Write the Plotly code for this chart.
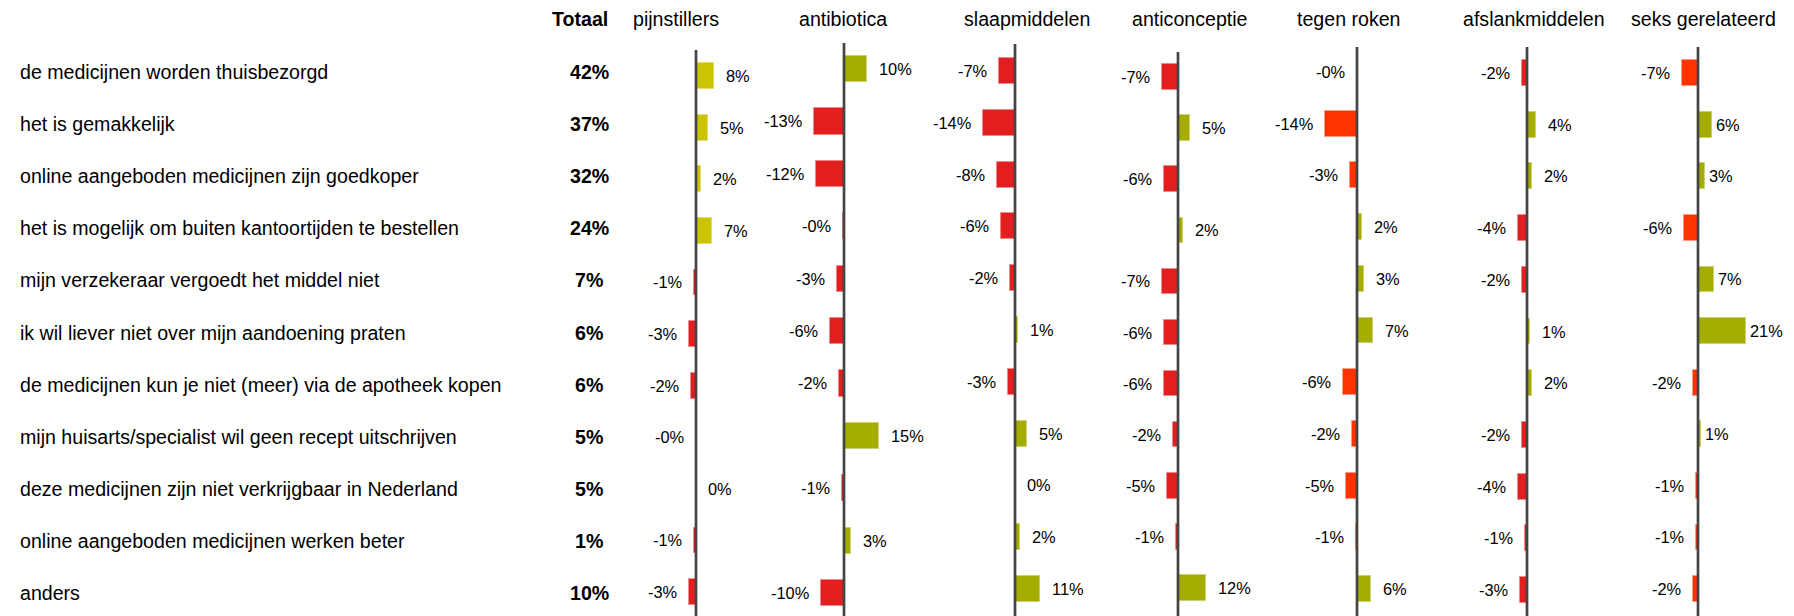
import plotly.graph_objects as go

# ---------------- data ----------------
reasons = [
    "de medicijnen worden thuisbezorgd",
    "het is gemakkelijk",
    "online aangeboden medicijnen zijn goedkoper",
    "het is mogelijk om buiten kantoortijden te bestellen",
    "mijn verzekeraar vergoedt het middel niet",
    "ik wil liever niet over mijn aandoening praten",
    "de medicijnen kun je niet (meer) via de apotheek kopen",
    "mijn huisarts/specialist wil geen recept uitschrijven",
    "deze medicijnen zijn niet verkrijgbaar in Nederland",
    "online aangeboden medicijnen werken beter",
    "anders",
]
totaal = [42, 37, 32, 24, 7, 6, 6, 5, 5, 1, 10]

panel_names = ["pijnstillers", "antibiotica", "slaapmiddelen", "anticonceptie",
               "tegen roken", "afslankmiddelen", "seks gerelateerd"]

pijnstillers = [8, 5, 2, 7, -1, -3, -2, -0.2, 0.1, -1, -3]
antibiotica = [10, -13, -12, -0.3, -3, -6, -2, 15, -1, 3, -10]
slaapmiddelen = [-7, -14, -8, -6, -2, 1.4, -3, 5, 0.1, 2, 11]
anticonceptie = [-7, 5, -6, 2, -7, -6, -6, -2, -5, -1, 12]
tegen_roken = [-0.2, -14, -3, 2, 3, 7, -6, -2, -5, -0.6, 6]
afslankmiddelen = [-2, 4, 2, -4, -2, 1.4, 2, -2, -4, -1, -3]
seks_gerelateerd = [-7, 6, 3, -6, 7, 21, -2, 1.2, -1, -1, -2]

series = [pijnstillers, antibiotica, slaapmiddelen, anticonceptie,
          tegen_roken, afslankmiddelen, seks_gerelateerd]

# ---------------- layout / style ----------------
W, H = 1794, 616
OFF = 8            # default body margin of the html page
PX_PER_PCT = 2.3
HALF = 90
axis_px = [696, 844, 1015, 1178, 1357, 1527, 1698]
axis_top_px = [50, 43, 44, 52, 47, 47, 47]
row_first_px = [76, 69, 71, 77, 72, 73, 73]
row_last_px = [592, 593, 589, 588, 589, 590, 589]
header_px = [676, 843, 1027, 1190, 1349, 1534, 1703]
pos_colors = ["#CCC400"] + ["#A4AD00"] * 6
pos_lines = ["#E2DC70"] + ["#CBD070"] * 6
neg_colors = ["#E31E1E"] * 4 + ["#FF3300", "#E31E1E", "#FF3300"]
neg_lines = ["#F08A8A"] * 4 + ["#FF9A80", "#F08A8A", "#FF9A80"]
pos_gap = [12] * 6 + [4]
neg_gap = 12

FONT = "Liberation Sans, Arial, sans-serif"
LABEL_X_PX = 18
TOTAAL_X_PX = 589
TOTAAL_HDR_X_PX = 580
HEADER_Y_PX = 18.5
LABEL_ROWS = (72, 593)


def fx(px):
    return px - OFF


def fy(px):
    return px - OFF


def yrange(first, last, n=11):
    first, last = fy(first), fy(last)
    d = (last - first) / (n - 1)
    return [(H - first) / d, -first / d]


fig = go.Figure()
layout = dict(
    width=W, height=H, margin=dict(l=0, r=0, t=0, b=0),
    paper_bgcolor="white", plot_bgcolor="rgba(0,0,0,0)",
    showlegend=False, bargap=0, shapes=[], annotations=[],
    font=dict(family=FONT, color="black"),
)

rows = list(range(len(reasons)))

for k, (name, vals) in enumerate(zip(panel_names, series), start=1):
    p = k - 1
    xa = "x" if k == 1 else f"x{k}"
    ya = "y" if k == 1 else f"y{k}"
    A = fx(axis_px[p])
    colors = [pos_colors[p] if v >= 0 else neg_colors[p] for v in vals]
    lines = [pos_lines[p] if v >= 0 else neg_lines[p] for v in vals]
    fig.add_trace(go.Bar(
        x=vals, y=rows, orientation="h", width=0.5,
        marker=dict(color=colors, line=dict(color=lines, width=1)),
        xaxis=xa, yaxis=ya, hoverinfo="skip", showlegend=False,
    ))
    layout["xaxis" if k == 1 else f"xaxis{k}"] = dict(
        domain=[(A - HALF) / W, (A + HALF) / W],
        range=[-HALF / PX_PER_PCT, HALF / PX_PER_PCT],
        visible=False, fixedrange=True, anchor=ya,
    )
    layout["yaxis" if k == 1 else f"yaxis{k}"] = dict(
        domain=[0, 1], range=yrange(row_first_px[p], row_last_px[p]),
        visible=False, fixedrange=True, anchor=xa,
    )
    # vertical axis line
    layout["shapes"].append(dict(
        type="line", xref=xa, yref="paper", x0=0, x1=0,
        y0=0, y1=1 - fy(axis_top_px[p]) / H,
        line=dict(color="#444444", width=2.7), layer="above",
    ))
    # header
    layout["annotations"].append(dict(
        text=name, xref="paper", yref="paper",
        x=fx(header_px[p]) / W, y=1 - fy(HEADER_Y_PX) / H,
        xanchor="center", yanchor="middle", showarrow=False,
        font=dict(size=19.6, family=FONT, color="black"),
    ))
    # value labels
    for i, v in enumerate(vals):
        lab = f"{v:.0f}%"
        neg = lab.startswith("-")
        layout["annotations"].append(dict(
            text=lab, xref=xa, yref=ya, x=v, y=i,
            xanchor="right" if neg else "left", yanchor="middle",
            xshift=-(neg_gap - 2) if neg else (pos_gap[p] - 2),
            showarrow=False,
            font=dict(size=16.4, family=FONT, color="black"),
        ))

# helper axis for the row labels / Totaal column
fig.add_trace(go.Scatter(x=[0], y=[0], mode="markers", marker=dict(opacity=0),
                         xaxis="x8", yaxis="y8", hoverinfo="skip", showlegend=False))
layout["xaxis8"] = dict(domain=[0, 1], range=[0, W], visible=False,
                        fixedrange=True, anchor="y8")
layout["yaxis8"] = dict(domain=[0, 1], range=yrange(*LABEL_ROWS), visible=False,
                        fixedrange=True, anchor="x8")

for i, (r, t) in enumerate(zip(reasons, totaal)):
    layout["annotations"].append(dict(
        text=r, xref="x8", yref="y8", x=fx(LABEL_X_PX), y=i,
        xanchor="left", yanchor="middle", showarrow=False,
        font=dict(size=19.6, family=FONT, color="black"),
    ))
    layout["annotations"].append(dict(
        text=f"<b>{t}%</b>", xref="x8", yref="y8", x=fx(TOTAAL_X_PX), y=i,
        xanchor="center", yanchor="middle", showarrow=False,
        font=dict(size=19.6, family=FONT, color="black"),
    ))

layout["annotations"].append(dict(
    text="<b>Totaal</b>", xref="paper", yref="paper",
    x=fx(TOTAAL_HDR_X_PX) / W, y=1 - fy(HEADER_Y_PX) / H,
    xanchor="center", yanchor="middle", showarrow=False,
    font=dict(size=19.6, family=FONT, color="black"),
))

fig.update_layout(**layout)
fig.write_html("out.html", config={"displayModeBar": False})
